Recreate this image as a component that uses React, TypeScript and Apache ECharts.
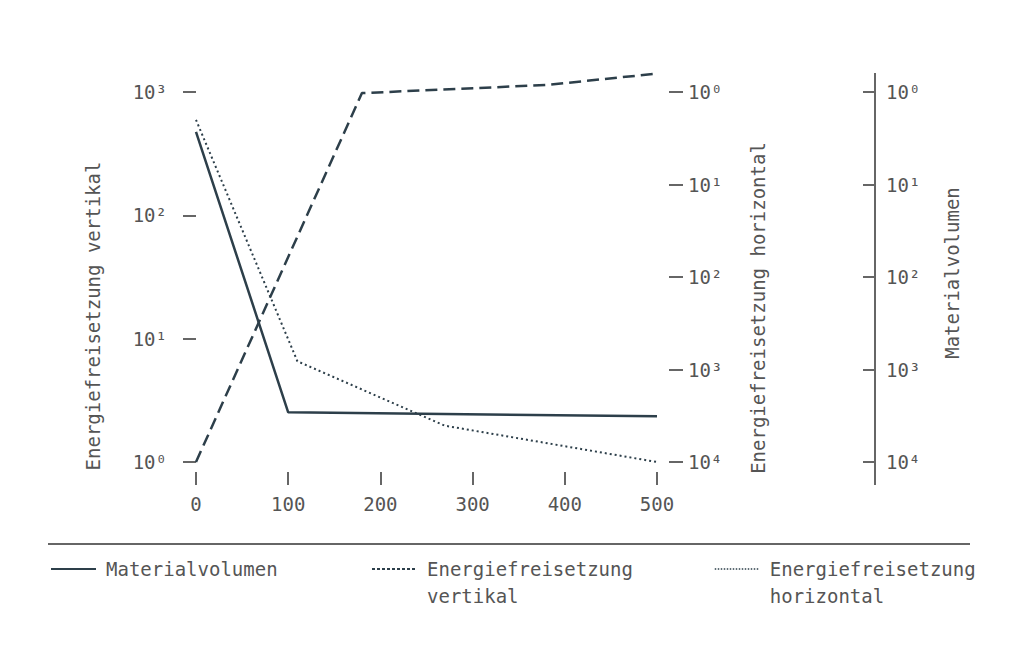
import { useEffect, useRef } from "react";
import * as echarts from "echarts";

// x positions (Abstand) and values for each series
const materialX = [0, 100, 500];
const materialValues = [2.7, 2900, 3200];

const vertikalX = [0, 180, 380, 500];
const vertikalValues = [1, 980, 1140, 1410];

const horizontalX = [0, 110, 270, 500];
const horizontalValues = [2.0, 815, 4050, 10000];

const xTickValues = [0, 100, 200, 300, 400, 500];
const superscripts = ["⁰", "¹", "²", "³", "⁴"];
const powerLabels = superscripts.map((s) => "10" + s);

const seriesNames = [
  "Materialvolumen",
  "Energiefreisetzung vertikal",
  "Energiefreisetzung horizontal",
];

const FONT = "DejaVu Sans Mono";
const TEXT = "#555555";
const AXIS = "#666666";
const LINE = "#2d3f4a";

const zip = (xs: number[], ys: number[]) => xs.map((x, i) => [x, ys[i]]);
const powLabel = (v: number) => powerLabels[Math.round(Math.log10(v))] ?? String(v);

export default function App() {
  const ref = useRef<HTMLDivElement>(null);
  useEffect(() => {
    if (!ref.current) return;
    const chart = echarts.init(ref.current, null, { renderer: "svg" });
    const labelStyle = { color: TEXT, fontFamily: FONT, fontSize: 19 };
    const tick = { show: true, lineStyle: { color: AXIS, width: 2 } };
    const legendBase = {
      itemWidth: 45,
      itemHeight: 14,
      padding: 0,
      selectedMode: false,
      itemStyle: { opacity: 0 },
      textStyle: { ...labelStyle, lineHeight: 27, padding: [0, 0, 0, 5] },
    };
    chart.setOption({
      animation: false,
      backgroundColor: "#ffffff",
      textStyle: { fontFamily: FONT },
      grid: { left: 196, right: 367, top: 92, height: 370, containLabel: false },
      xAxis: {
        type: "value",
        min: xTickValues[0],
        max: xTickValues[xTickValues.length - 1],
        interval: 100,
        offset: 10,
        axisLine: { show: false },
        axisTick: { ...tick, length: 13 },
        axisLabel: { ...labelStyle, margin: 22 },
        splitLine: { show: false },
      },
      yAxis: [
        {
          type: "log",
          logBase: 10,
          min: 1,
          max: 1000,
          position: "left",
          offset: 11,
          axisLine: { show: false },
          axisTick: { ...tick, length: 13 },
          axisLabel: { ...labelStyle, margin: 18, formatter: powLabel },
          splitLine: { show: false },
          name: seriesNames[1],
          nameLocation: "middle",
          nameRotate: 90,
          nameGap: 83,
          nameTextStyle: { ...labelStyle, padding: [0, 78, 0, 0] },
        },
        {
          type: "log",
          logBase: 10,
          min: 1,
          max: 10000,
          inverse: true,
          position: "right",
          offset: 12,
          axisLine: { show: false },
          axisTick: { ...tick, length: 14 },
          axisLabel: { ...labelStyle, margin: 19, formatter: powLabel },
          splitLine: { show: false },
          name: seriesNames[2],
          nameLocation: "middle",
          nameRotate: 90,
          nameGap: 79,
          nameTextStyle: { ...labelStyle, padding: [0, 62, 0, 0] },
        },
        {
          type: "log",
          logBase: 10,
          min: 1,
          max: 10000,
          inverse: true,
          position: "right",
          offset: 218,
          axisLine: { show: false },
          axisTick: { ...tick, length: 12, inside: true },
          axisLabel: { ...labelStyle, margin: 11, formatter: powLabel },
          splitLine: { show: false },
          name: seriesNames[0],
          nameLocation: "middle",
          nameRotate: 90,
          nameGap: 67,
          nameTextStyle: { ...labelStyle, padding: [0, 0, 0, 8] },
        },
      ],
      legend: [
        {
          ...legendBase,
          data: [{ name: seriesNames[0] }],
          left: 50,
          top: 555.5,
        },
        {
          ...legendBase,
          data: [{ name: seriesNames[1], lineStyle: { type: [3, 2], width: 2 } }],
          left: 371,
          top: 528.5,
          formatter: (n: string) => "\n" + n.replace(" ", "\n"),
        },
        {
          ...legendBase,
          data: [{ name: seriesNames[2], lineStyle: { type: [1.5, 1.5], width: 1.5 } }],
          left: 714,
          top: 528.5,
          formatter: (n: string) => "\n" + n.replace(" ", "\n"),
        },
      ],
      graphic: [
        {
          type: "line",
          shape: { x1: 48, y1: 544, x2: 970, y2: 544 },
          style: { stroke: AXIS, lineWidth: 2 },
        },
        {
          type: "line",
          shape: { x1: 875, y1: 73, x2: 875, y2: 485 },
          style: { stroke: AXIS, lineWidth: 2 },
        },
      ],
      series: [
        {
          type: "line",
          name: seriesNames[0],
          yAxisIndex: 2,
          data: zip(materialX, materialValues),
          symbol: "none",
          clip: false,
          itemStyle: { color: LINE },
          lineStyle: { color: LINE, width: 2.5, type: "solid" },
        },
        {
          type: "line",
          name: seriesNames[1],
          yAxisIndex: 0,
          data: zip(vertikalX, vertikalValues),
          symbol: "none",
          clip: false,
          itemStyle: { color: LINE },
          lineStyle: { color: LINE, width: 2.5, type: [12, 6] },
        },
        {
          type: "line",
          name: seriesNames[2],
          yAxisIndex: 1,
          data: zip(horizontalX, horizontalValues),
          symbol: "none",
          clip: false,
          itemStyle: { color: LINE },
          lineStyle: { color: LINE, width: 2, type: [2, 3] },
        },
      ],
    });
    return () => chart.dispose();
  }, []);
  return (
    <div
      ref={ref}
      style={{ position: "fixed", left: 0, top: 0, width: 1024, height: 657, background: "#fff" }}
    />
  );
}
